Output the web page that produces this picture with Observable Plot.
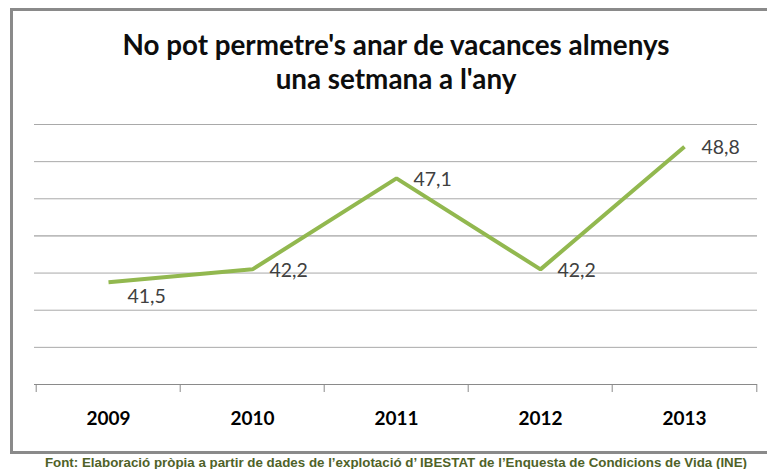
<!DOCTYPE html>
<html>
<head>
<meta charset="utf-8">
<script src="https://cdn.jsdelivr.net/npm/d3@7"></script>
<script src="https://cdn.jsdelivr.net/npm/@observablehq/plot@0.6"></script>
<style>
  html, body { margin: 0; padding: 0; background: #fff; overflow: hidden; }
  #wrap { position: relative; width: 767px; height: 469px; overflow: hidden; background: #fff; }
  #frame { position: absolute; left: 10px; top: 8px; width: 800px; height: 446px; border: 3px solid #8a8a8a; box-sizing: border-box; }
  #chart { position: absolute; left: 0; top: 0; }
</style>
</head>
<body>
<div id="wrap"><div id="frame"></div><div id="chart"></div></div>
<script>
const titleText = "No pot permetre's anar de vacances almenys\nuna setmana a l'any";
const footText = "Font: Elaboració pròpia a partir de dades de l\u2019explotació d\u2019 IBESTAT de l\u2019Enquesta de Condicions de Vida (INE)";
const years = ["2009", "2010", "2011", "2012", "2013"];
const values = [41.5, 42.2, 47.1, 42.2, 48.8];
const valueLabels = ["41,5", "42,2", "47,1", "42,2", "48,8"];
const yTicks = [36, 38, 40, 42, 44, 46, 48, 50];

const rows = years.map((year, i) => ({year, value: values[i], label: valueLabels[i], i}));

const W = 767, H = 469, mL = 34, mR = 10, mT = 124, mB = 85;
const step = (W - mL - mR) / years.length;

const chart = Plot.plot({
  width: W, height: H,
  marginLeft: mL, marginRight: mR, marginTop: mT, marginBottom: mB,
  style: {background: "transparent", fontFamily: "Lato, 'Open Sans', sans-serif", overflow: "visible"},
  x: {type: "point", domain: years, padding: 0.5, axis: null, label: null},
  y: {domain: [yTicks[0], yTicks[yTicks.length - 1]], axis: null, label: null},
  marks: [
    Plot.ruleY(yTicks.filter(d => d > yTicks[0] && d !== 44), {stroke: "#a9a9a9", strokeWidth: 1}),
    Plot.ruleY(yTicks.filter(d => d === 44), {stroke: "#8c8c8c", strokeWidth: 1}),
    Plot.ruleY([yTicks[0]], {stroke: "#8a8a8a", strokeWidth: 1}),
    Plot.axisX(years, {anchor: "bottom", label: null, dx: -step / 2, tickSize: 8, tickFormat: () => "", stroke: "#8a8a8a"}),
    Plot.axisX(years.slice(-1), {anchor: "bottom", label: null, dx: step / 2, tickSize: 8, tickFormat: () => "", stroke: "#8a8a8a"}),
    Plot.axisX(years, {anchor: "bottom", label: null, tickSize: 0, tickPadding: 27, fontSize: 19, fontWeight: "bold", fill: "#000"}),
    Plot.line(rows, {x: "year", y: "value", stroke: "#92b84f", strokeWidth: 4, strokeLinejoin: "miter", strokeLinecap: "butt"}),
    Plot.text(rows.filter(d => d.i === 0), {x: "year", y: "value", text: "label", textAnchor: "start", dx: 19, dy: 14, fontSize: 19.5, fill: "#404040"}),
    Plot.text(rows.filter(d => d.i !== 0), {x: "year", y: "value", text: "label", textAnchor: "start", dx: 17, dy: 1, fontSize: 19.5, fill: "#404040"}),
    Plot.text([titleText], {text: d => d, frameAnchor: "top", lineAnchor: "bottom", dy: -35.7, lineHeight: 1.22, fontSize: 27.8, fontWeight: "bold", fill: "#0d0d0d"}),
    Plot.text([footText], {text: d => d, frameAnchor: "bottom", lineAnchor: "bottom", dy: 82, fontSize: 13.35, fontWeight: "bold", fill: "#4f6228", fontFamily: "'Liberation Sans', Arial, sans-serif"})
  ]
});
document.getElementById("chart").appendChild(chart);
</script>
</body>
</html>
